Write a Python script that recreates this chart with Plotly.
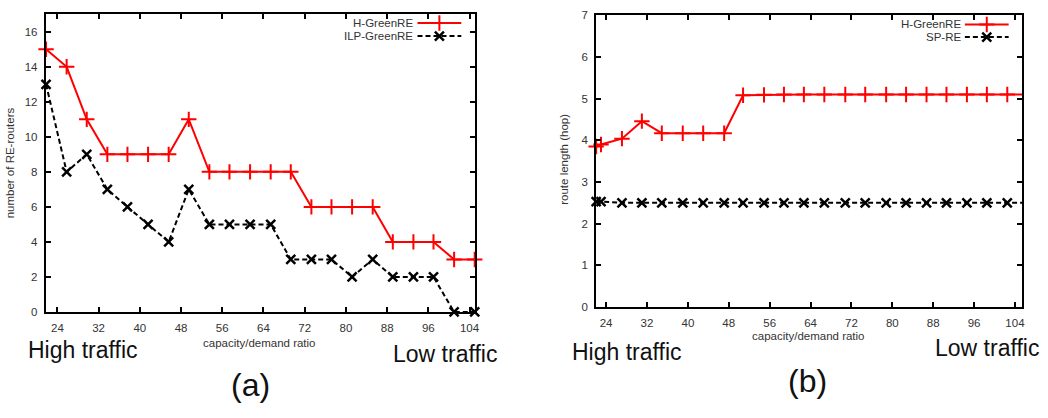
import plotly.graph_objects as go

# ---------------- data ----------------
# (a) number of RE-routers vs capacity/demand ratio
ratio_a = [21.8, 25.8, 29.7, 33.7, 37.6, 41.6, 45.6, 49.5, 53.5, 57.4, 61.4,
           65.4, 69.3, 73.3, 77.2, 81.2, 85.2, 89.1, 93.1, 97.0, 101.0, 105.0]
h_green_a = [15, 14, 11, 9, 9, 9, 9, 11, 8, 8, 8, 8, 8, 6, 6, 6, 6, 4, 4, 4, 3, 3]
ilp_green_a = [13, 8, 9, 7, 6, 5, 4, 7, 5, 5, 5, 5, 3, 3, 3, 2, 3, 2, 2, 2, 0, 0]

# (b) route length (hop) vs capacity/demand ratio
ratio_b = [22.05, 23.0, 27.1, 31.0, 34.9, 39.0, 43.0, 47.1, 50.8, 54.9, 58.8, 62.7,
           66.7, 70.8, 74.7, 78.8, 82.7, 86.7, 90.6, 94.6, 98.5, 102.5, 106.4]
h_green_b = [3.85, 3.9, 4.04, 4.46, 4.17, 4.17, 4.17, 4.17, 5.08, 5.09, 5.1, 5.1,
             5.1, 5.1, 5.1, 5.1, 5.1, 5.1, 5.1, 5.1, 5.1, 5.1, 5.1]
sp_re_b = [2.53, 2.53, 2.5, 2.5, 2.5, 2.5, 2.5, 2.5, 2.5, 2.5, 2.5, 2.5,
           2.5, 2.5, 2.5, 2.5, 2.5, 2.5, 2.5, 2.5, 2.5, 2.5, 2.5]

x_ticks = [24, 32, 40, 48, 56, 64, 72, 80, 88, 96, 104]
y_ticks_a = [0, 2, 4, 6, 8, 10, 12, 14, 16]
y_ticks_b = [0, 1, 2, 3, 4, 5, 6, 7]

# ---------------- styling ----------------
W, H = 1048, 418
RED = "#ff0000"
BLK = "#000000"
FONT = "Liberation Sans, Arial, Helvetica, sans-serif"
SMALL = 11.5
TXT = "#333333"
DASH = "5px,3px"
PLUS = dict(symbol="cross-thin-open", size=11, color=RED, line=dict(color=RED, width=2))
CROSS = dict(symbol="x-thin-open", size=9, color=BLK, line=dict(color=BLK, width=2.5))

XA_RANGE = [21.75, 105.0]
XB_RANGE = [22.05, 105.4]


def px_x(x):
    return x / W


def px_y(y):
    return 1 - y / H


fig = go.Figure()

# ---- panel (a)
fig.add_trace(go.Scatter(x=ratio_a, y=h_green_a, mode="lines+markers", xaxis="x", yaxis="y",
                         line=dict(color=RED, width=2), marker=PLUS,
                         cliponaxis=False, showlegend=False, name="H-GreenRE"))
fig.add_trace(go.Scatter(x=ratio_a, y=ilp_green_a, mode="lines+markers", xaxis="x", yaxis="y",
                         line=dict(color=BLK, width=2, dash=DASH), marker=CROSS,
                         cliponaxis=False, showlegend=False, name="ILP-GreenRE"))

# ---- panel (b): lines (clipped) + markers only inside range
fig.add_trace(go.Scatter(x=ratio_b, y=h_green_b, mode="lines", xaxis="x2", yaxis="y2",
                         line=dict(color=RED, width=2), showlegend=False, name="H-GreenRE"))
fig.add_trace(go.Scatter(x=ratio_b, y=sp_re_b, mode="lines", xaxis="x2", yaxis="y2",
                         line=dict(color=BLK, width=2, dash=DASH), showlegend=False, name="SP-RE"))
inside = [i for i, v in enumerate(ratio_b) if v <= XB_RANGE[1]]
fig.add_trace(go.Scatter(x=[ratio_b[i] for i in inside], y=[h_green_b[i] for i in inside],
                         mode="markers", xaxis="x2", yaxis="y2", marker=PLUS,
                         cliponaxis=False, showlegend=False))
fig.add_trace(go.Scatter(x=[ratio_b[i] for i in inside], y=[sp_re_b[i] for i in inside],
                         mode="markers", xaxis="x2", yaxis="y2", marker=CROSS,
                         cliponaxis=False, showlegend=False))


# ---- gnuplot-style key samples (full-page pixel axes)
def key_sample(x0, x1, y, color, dash, marker):
    fig.add_trace(go.Scatter(x=[x0, x1], y=[y, y], mode="lines", xaxis="x3", yaxis="y3",
                             line=dict(color=color, width=2, dash=dash),
                             showlegend=False, hoverinfo="skip"))
    fig.add_trace(go.Scatter(x=[(x0 + x1) / 2], y=[y], mode="markers", xaxis="x3", yaxis="y3",
                             marker=marker, showlegend=False, hoverinfo="skip", cliponaxis=False))


key_sample(419.5, 463.5, 17.5, RED, None, PLUS)
key_sample(419.5, 463.5, 31.0, BLK, DASH, CROSS)
key_sample(969.5, 1013.5, 19.0, RED, None, PLUS)
key_sample(969.5, 1013.5, 32.0, BLK, DASH, CROSS)

axis_common = dict(showline=True, linecolor="black", linewidth=2, mirror="ticks",
                   ticks="inside", ticklen=5, tickwidth=1.5, tickcolor="black",
                   showgrid=False, zeroline=False,
                   tickfont=dict(family=FONT, size=SMALL, color=TXT))

fig.update_layout(
    width=W, height=H,
    margin=dict(l=0, r=0, t=0, b=0),
    paper_bgcolor="white", plot_bgcolor="rgba(0,0,0,0)",
    xaxis=dict(domain=[px_x(46), px_x(477)], range=XA_RANGE, tickvals=x_ticks,
               anchor="y", ticklabelstandoff=4, **axis_common),
    yaxis=dict(domain=[px_y(315), px_y(8.5)], range=[0, 17], tickvals=y_ticks_a,
               anchor="x", ticklabelstandoff=4, **axis_common),
    xaxis2=dict(domain=[px_x(599), px_x(1027)], range=XB_RANGE, tickvals=x_ticks,
                anchor="y2", ticklabelstandoff=4, **axis_common),
    yaxis2=dict(domain=[px_y(310), px_y(9.5)], range=[0, 7], tickvals=y_ticks_b,
                anchor="x2", ticklabelstandoff=4, **axis_common),
    xaxis3=dict(domain=[0, 1], range=[0, W], visible=False, anchor="y3"),
    yaxis3=dict(domain=[0, 1], range=[H, 0], visible=False, anchor="x3"),
    hovermode=False,
)


def ann(text, x, y, size, color=TXT, xanchor="center", angle=0):
    fig.add_annotation(text=text, x=px_x(x), y=px_y(y), xref="paper", yref="paper",
                       xanchor=xanchor, yanchor="middle", showarrow=False, textangle=angle,
                       font=dict(family=FONT, size=size, color=color))


# legend texts
ann("H-GreenRE", 416.5, 17.5, SMALL, xanchor="right")
ann("ILP-GreenRE", 416.5, 31.0, SMALL, xanchor="right")
ann("H-GreenRE", 967.5, 19.0, SMALL, xanchor="right")
ann("SP-RE", 967.5, 32.0, SMALL, xanchor="right")

# axis titles
ann("number of RE-routers", 10, 161, SMALL, angle=-90)
ann("capacity/demand ratio", 261, 347, SMALL)
ann("route length (hop)", 567, 158, SMALL, angle=-90)
ann("capacity/demand ratio", 812, 340, SMALL)

# traffic labels and panel labels
ann("High traffic", 83, 354, 23, color="#111111")
ann("Low traffic", 447.5, 358, 23, color="#111111")
ann("(a)", 252, 390, 32, color="#111111")
ann("High traffic", 630, 356, 23, color="#111111")
ann("Low traffic", 991.5, 352, 23, color="#111111")
ann("(b)", 811.5, 386, 32, color="#111111")

fig.write_html("out.html")
